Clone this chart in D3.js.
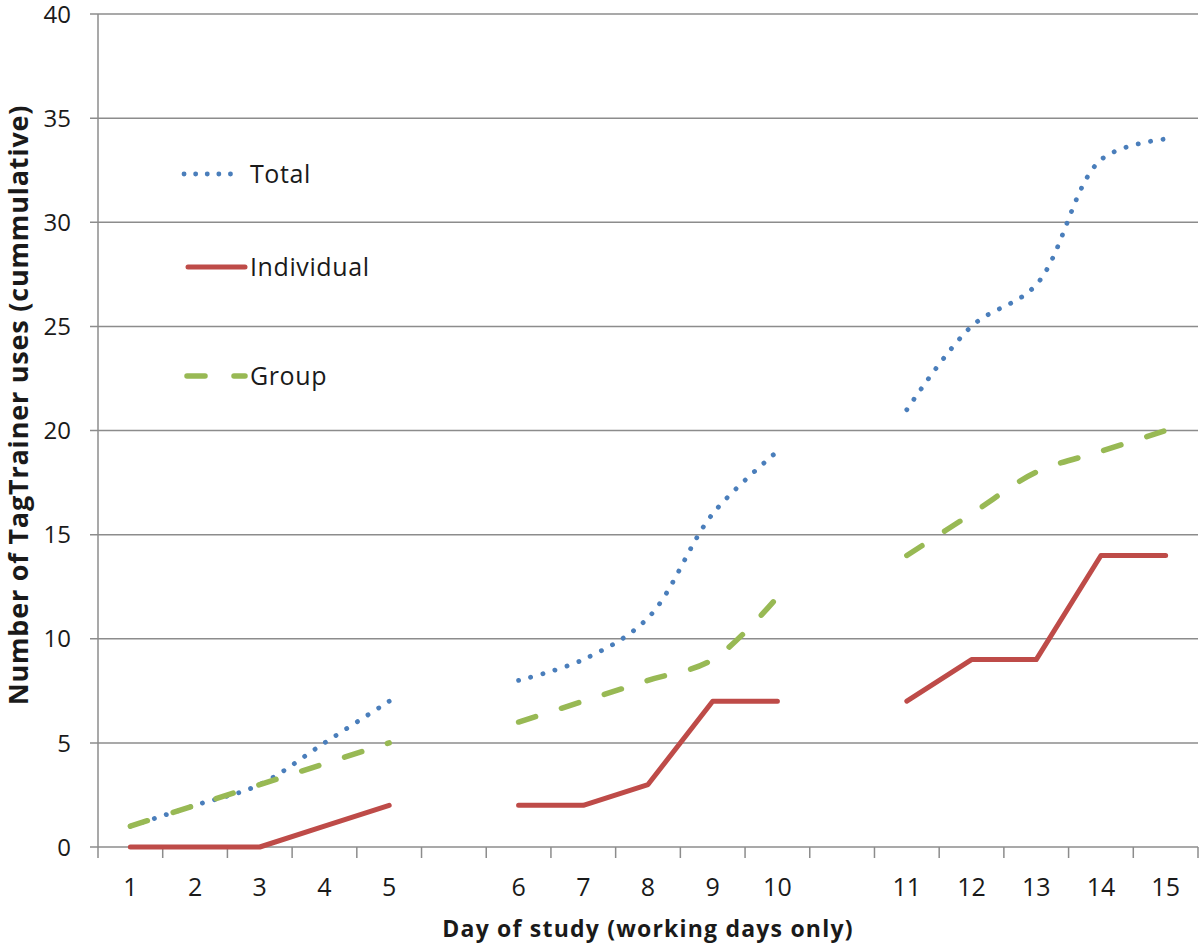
<!DOCTYPE html>
<html>
<head>
<meta charset="utf-8">
<script src="https://cdn.jsdelivr.net/npm/d3@7"></script>
<style>
  body { margin: 0; background: #fff; }
  text { font-family: "Open Sans", "Liberation Sans", sans-serif; fill: #1a1a1a; }
</style>
</head>
<body>
<svg id="chart" width="1200" height="947"></svg>
<script>
// slots along the x axis ("g.." = empty gap between weeks)
var days = ["1","2","3","4","5","g1","6","7","8","9","10","g2","11","12","13","14","15"];
var total      = [1,2,3,5,7,null, 8,9,11,16,19,null, 21,25,27,33,34];
var individual = [0,0,0,1,2,null, 2,2,3,7,7,null, 7,9,9,14,14];
var group      = [1,2,3,4,5,null, 6,7,8,9,12,null, 14,16,18,19,20];
var yTicks = [0,5,10,15,20,25,30,35,40];

var series = [
  {name:"Total", values:total, color:"#4a7ebb", dash:"0.1 12.5", legDash:"0.1 11.5", width:4.8, smooth:true, ly:174, lx1:184, lx2:242},
  {name:"Individual", values:individual, color:"#be4b48", dash:null, legDash:null, width:5, smooth:false, ly:267, lx1:188, lx2:245},
  {name:"Group", values:group, color:"#98b954", dash:"18 27", legDash:"18 29", width:5.5, smooth:true, ly:376, lx1:187, lx2:245}
];

(function(){
  var svg = d3.select("#chart");
  var mLeft = 98, mRight = 1198, mTop = 14, mBottom = 847;

  var x = d3.scaleBand().domain(days).range([mLeft, mRight]);
  var y = d3.scaleLinear().domain([0, 40]).range([mBottom, mTop]);

  // grid
  svg.append("g").selectAll("line")
    .data(yTicks)
    .enter().append("line")
    .attr("x1", mLeft - 8).attr("x2", mRight)
    .attr("y1", function(d){ return y(d); })
    .attr("y2", function(d){ return y(d); })
    .attr("stroke", "#8c8c8c").attr("stroke-width", 1.5);

  svg.append("line")
    .attr("x1", mLeft).attr("x2", mLeft)
    .attr("y1", mTop).attr("y2", mBottom)
    .attr("stroke", "#8c8c8c").attr("stroke-width", 1.5);

  // x tick marks at slot boundaries
  var bounds = days.map(function(d){ return x(d); }).concat([mRight]);
  svg.append("g").selectAll("line")
    .data(bounds)
    .enter().append("line")
    .attr("x1", function(d){ return d; }).attr("x2", function(d){ return d; })
    .attr("y1", mBottom).attr("y2", mBottom + 11)
    .attr("stroke", "#8c8c8c").attr("stroke-width", 1.5);

  // y labels
  svg.append("g").selectAll("text")
    .data(yTicks)
    .enter().append("text")
    .attr("x", 71).attr("y", function(d){ return y(d); })
    .attr("dy", "0.36em")
    .attr("text-anchor", "end")
    .style("font-size", "24px")
    .text(function(d){ return d; });

  // x labels
  svg.append("g").selectAll("text")
    .data(days.filter(function(d){ return d[0] !== "g"; }))
    .enter().append("text")
    .attr("x", function(d){ return x(d) + x.bandwidth()/2; })
    .attr("y", 896)
    .attr("text-anchor", "middle")
    .style("font-size", "25px")
    .text(function(d){ return d; });

  // axis titles
  svg.append("text")
    .attr("x", 648).attr("y", 937)
    .attr("text-anchor", "middle")
    .style("font-size", "23px").style("font-weight", "bold")
    .style("letter-spacing", "1.2px")
    .text("Day of study (working days only)");

  svg.append("text")
    .attr("transform", "translate(28,405) rotate(-90)")
    .attr("text-anchor", "middle")
    .style("font-size", "27px").style("font-weight", "bold")
    .style("letter-spacing", "0.8px")
    .text("Number of TagTrainer uses (cummulative)");

  // lines
  series.forEach(function(s){
    var line = d3.line()
      .defined(function(d){ return d != null; })
      .x(function(d, i){ return x(days[i]) + x.bandwidth()/2; })
      .y(function(d){ return y(d); })
      .curve(s.smooth ? d3.curveCatmullRom.alpha(0.5) : d3.curveLinear);
    var p = svg.append("path")
      .datum(s.values)
      .attr("d", line)
      .attr("fill", "none")
      .attr("stroke", s.color)
      .attr("stroke-width", s.width)
      .attr("stroke-linecap", "round")
      .attr("stroke-linejoin", "round");
    if (s.dash) p.attr("stroke-dasharray", s.dash);

    // legend
    var lg = svg.append("g");
    var l = lg.append("line")
      .attr("x1", s.lx1).attr("x2", s.lx2)
      .attr("y1", s.ly).attr("y2", s.ly)
      .attr("stroke", s.color).attr("stroke-width", s.width)
      .attr("stroke-linecap", "round");
    if (s.legDash) l.attr("stroke-dasharray", s.legDash);
    lg.append("text")
      .attr("x", 250).attr("y", s.ly)
      .attr("dy", "0.36em")
      .style("font-size", "25px")
      .style("letter-spacing", "0.6px")
      .text(s.name);
  });
})();
</script>
</body>
</html>
